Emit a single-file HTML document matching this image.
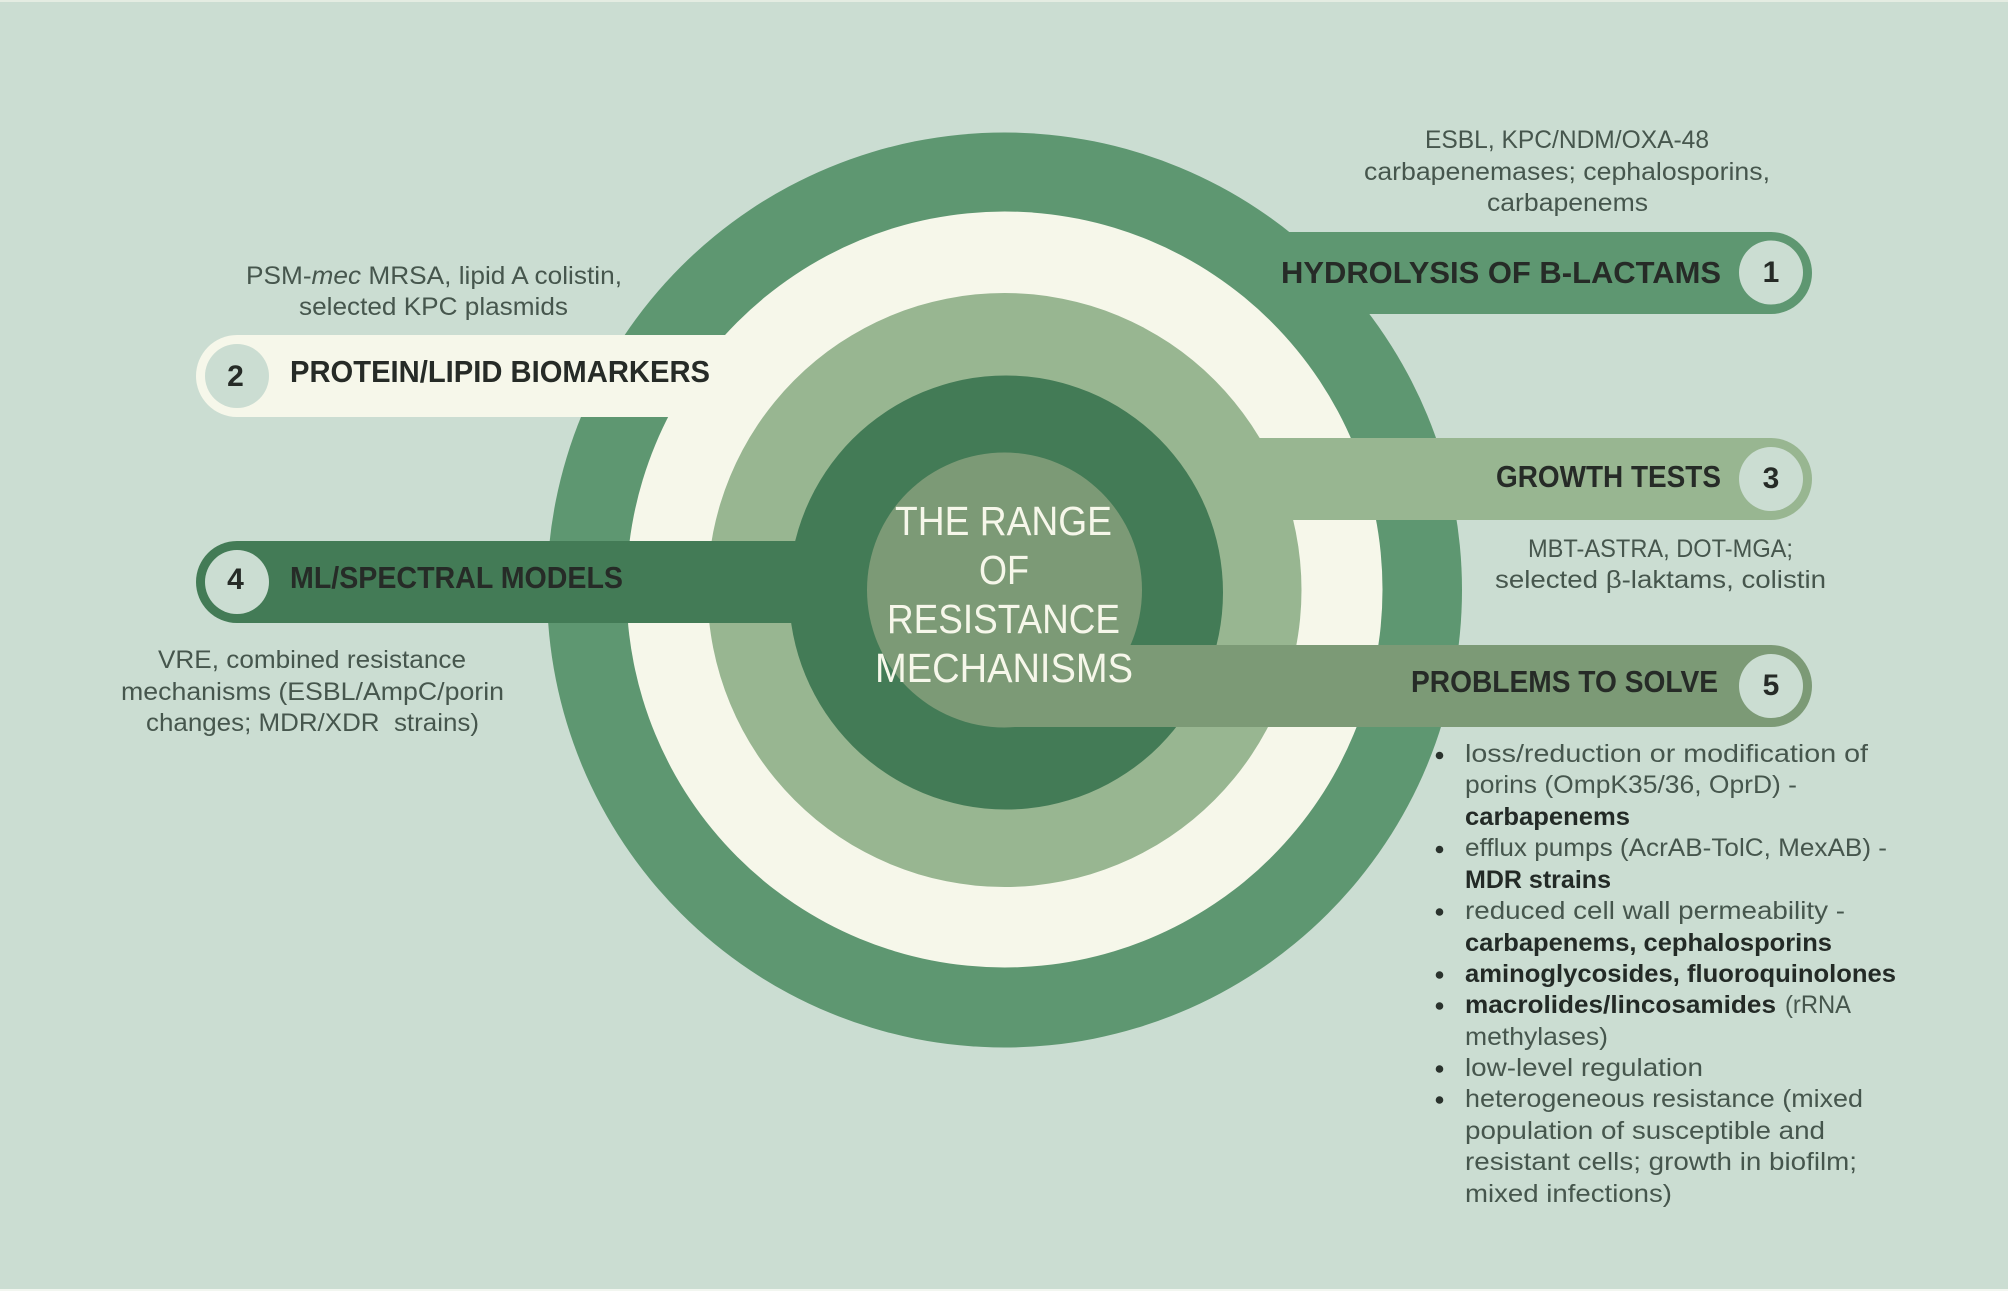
<!DOCTYPE html>
<html><head><meta charset="utf-8"><style>
html,body{margin:0;padding:0;background:#cbddd2}
svg{display:block}
text{font-family:"Liberation Sans",sans-serif}
.s{font-size:25px;fill:#46564d}
.b{font-size:25px;fill:#232a26;font-weight:700}
.h{font-size:31px;fill:#262b27;font-weight:700}
.n{font-size:30px;fill:#262b27;font-weight:700;text-anchor:middle}
.t{font-size:41px;fill:#f6f7ea}
</style></head><body>
<svg width="2008" height="1291" viewBox="0 0 2008 1291" xmlns="http://www.w3.org/2000/svg">
<rect width="2008" height="1291" fill="#cbddd2"/>
<rect width="2008" height="2" fill="#e4ece2"/>
<rect y="1289" width="2008" height="2" fill="#f2f6f0"/>

<circle cx="1004.5" cy="590" r="457.500" fill="#5e9771"/>
<path d="M1004 232H1771a41 41 0 0 1 0 82H1004Z" fill="#5e9771"/>
<circle cx="1004.500" cy="589.500" r="378" fill="#f6f7ea"/>
<path d="M1004 335H237a41 41 0 0 0 0 82H1004Z" fill="#f6f7ea"/>
<circle cx="1004.500" cy="590" r="297" fill="#98b691"/>
<path d="M1004 438H1771a41 41 0 0 1 0 82H1004Z" fill="#98b691"/>
<circle cx="1006" cy="592.500" r="217" fill="#437b56"/>
<path d="M1004 541H237a41 41 0 0 0 0 82H1004Z" fill="#437b56"/>
<circle cx="1004.500" cy="590" r="137.500" fill="#7c9a76"/>
<path d="M1004 645H1771a41 41 0 0 1 0 82H1004Z" fill="#7c9a76"/>

<circle cx="1771" cy="272.500" r="32" fill="#cbddd2"/>
<circle cx="1771" cy="479" r="32" fill="#cbddd2"/>
<circle cx="1771" cy="686" r="32" fill="#cbddd2"/>
<circle cx="237" cy="376" r="32" fill="#cbddd2"/>
<circle cx="237" cy="582" r="32" fill="#cbddd2"/>

<text class="n" x="1771" y="282">1</text>
<text class="n" x="1771" y="488">3</text>
<text class="n" x="1771" y="695">5</text>
<text class="n" x="235.500" y="386">2</text>
<text class="n" x="235.500" y="589">4</text>

<text class="h" x="1281" y="283" textLength="440" lengthAdjust="spacingAndGlyphs">HYDROLYSIS OF B-LACTAMS</text>
<text class="h" x="1496" y="487" textLength="225" lengthAdjust="spacingAndGlyphs">GROWTH TESTS</text>
<text class="h" x="1411" y="692" textLength="307" lengthAdjust="spacingAndGlyphs">PROBLEMS TO SOLVE</text>
<text class="h" x="290" y="382" textLength="420" lengthAdjust="spacingAndGlyphs">PROTEIN/LIPID BIOMARKERS</text>
<text class="h" x="290" y="588" textLength="333" lengthAdjust="spacingAndGlyphs">ML/SPECTRAL MODELS</text>

<text class="t" x="895" y="535" textLength="217" lengthAdjust="spacingAndGlyphs">THE RANGE</text>
<text class="t" x="979" y="584" textLength="50" lengthAdjust="spacingAndGlyphs">OF</text>
<text class="t" x="887" y="633" textLength="233" lengthAdjust="spacingAndGlyphs">RESISTANCE</text>
<text class="t" x="875" y="682" textLength="258" lengthAdjust="spacingAndGlyphs">MECHANISMS</text>

<text class="s" x="1425" y="148" textLength="284" lengthAdjust="spacingAndGlyphs">ESBL, KPC/NDM/OXA-48</text>
<text class="s" x="1364" y="180" textLength="406" lengthAdjust="spacingAndGlyphs">carbapenemases; cephalosporins,</text>
<text class="s" x="1487" y="211" textLength="161" lengthAdjust="spacingAndGlyphs">carbapenems</text>

<text class="s" x="1528" y="557" textLength="265" lengthAdjust="spacingAndGlyphs">MBT-ASTRA, DOT-MGA;</text>
<text class="s" x="1495" y="588" textLength="331" lengthAdjust="spacingAndGlyphs">selected β-laktams, colistin</text>

<text class="s" x="246" y="284" textLength="376" lengthAdjust="spacingAndGlyphs">PSM-<tspan font-style="italic">mec</tspan> MRSA, lipid A colistin,</text>
<text class="s" x="299" y="315" textLength="269" lengthAdjust="spacingAndGlyphs">selected KPC plasmids</text>

<text class="s" x="158" y="668" textLength="308" lengthAdjust="spacingAndGlyphs">VRE, combined resistance</text>
<text class="s" x="121" y="700" textLength="383" lengthAdjust="spacingAndGlyphs">mechanisms (ESBL/AmpC/porin</text>
<text class="s" x="146" y="731" textLength="333" lengthAdjust="spacingAndGlyphs">changes; MDR/XDR&#160; strains)</text>

<g fill="#2a322d">
<circle cx="1439.500" cy="755.500" r="3.800"/>
<circle cx="1439.500" cy="849.500" r="3.800"/>
<circle cx="1439.500" cy="912" r="3.800"/>
<circle cx="1439.500" cy="975" r="3.800"/>
<circle cx="1439.500" cy="1006" r="3.800"/>
<circle cx="1439.500" cy="1069" r="3.800"/>
<circle cx="1439.500" cy="1100" r="3.800"/>
</g>
<text class="s" x="1465" y="762" textLength="403" lengthAdjust="spacingAndGlyphs">loss/reduction or modification of</text>
<text class="s" x="1465" y="793" textLength="332" lengthAdjust="spacingAndGlyphs">porins (OmpK35/36, OprD) -</text>
<text class="b" x="1465" y="825" textLength="165" lengthAdjust="spacingAndGlyphs">carbapenems</text>
<text class="s" x="1465" y="856" textLength="422" lengthAdjust="spacingAndGlyphs">efflux pumps (AcrAB-TolC, MexAB) -</text>
<text class="b" x="1465" y="888" textLength="146" lengthAdjust="spacingAndGlyphs">MDR strains</text>
<text class="s" x="1465" y="919" textLength="380" lengthAdjust="spacingAndGlyphs">reduced cell wall permeability -</text>
<text class="b" x="1465" y="951" textLength="367" lengthAdjust="spacingAndGlyphs">carbapenems, cephalosporins</text>
<text class="b" x="1465" y="982" textLength="431" lengthAdjust="spacingAndGlyphs">aminoglycosides, fluoroquinolones</text>
<text class="b" x="1465" y="1013" textLength="311" lengthAdjust="spacingAndGlyphs">macrolides/lincosamides</text>
<text class="s" x="1785" y="1013" textLength="66" lengthAdjust="spacingAndGlyphs">(rRNA</text>
<text class="s" x="1465" y="1045" textLength="143" lengthAdjust="spacingAndGlyphs">methylases)</text>
<text class="s" x="1465" y="1076" textLength="238" lengthAdjust="spacingAndGlyphs">low-level regulation</text>
<text class="s" x="1465" y="1107" textLength="398" lengthAdjust="spacingAndGlyphs">heterogeneous resistance (mixed</text>
<text class="s" x="1465" y="1139" textLength="360" lengthAdjust="spacingAndGlyphs">population of susceptible and</text>
<text class="s" x="1465" y="1170" textLength="392" lengthAdjust="spacingAndGlyphs">resistant cells; growth in biofilm;</text>
<text class="s" x="1465" y="1202" textLength="207" lengthAdjust="spacingAndGlyphs">mixed infections)</text>
</svg>
</body></html>
